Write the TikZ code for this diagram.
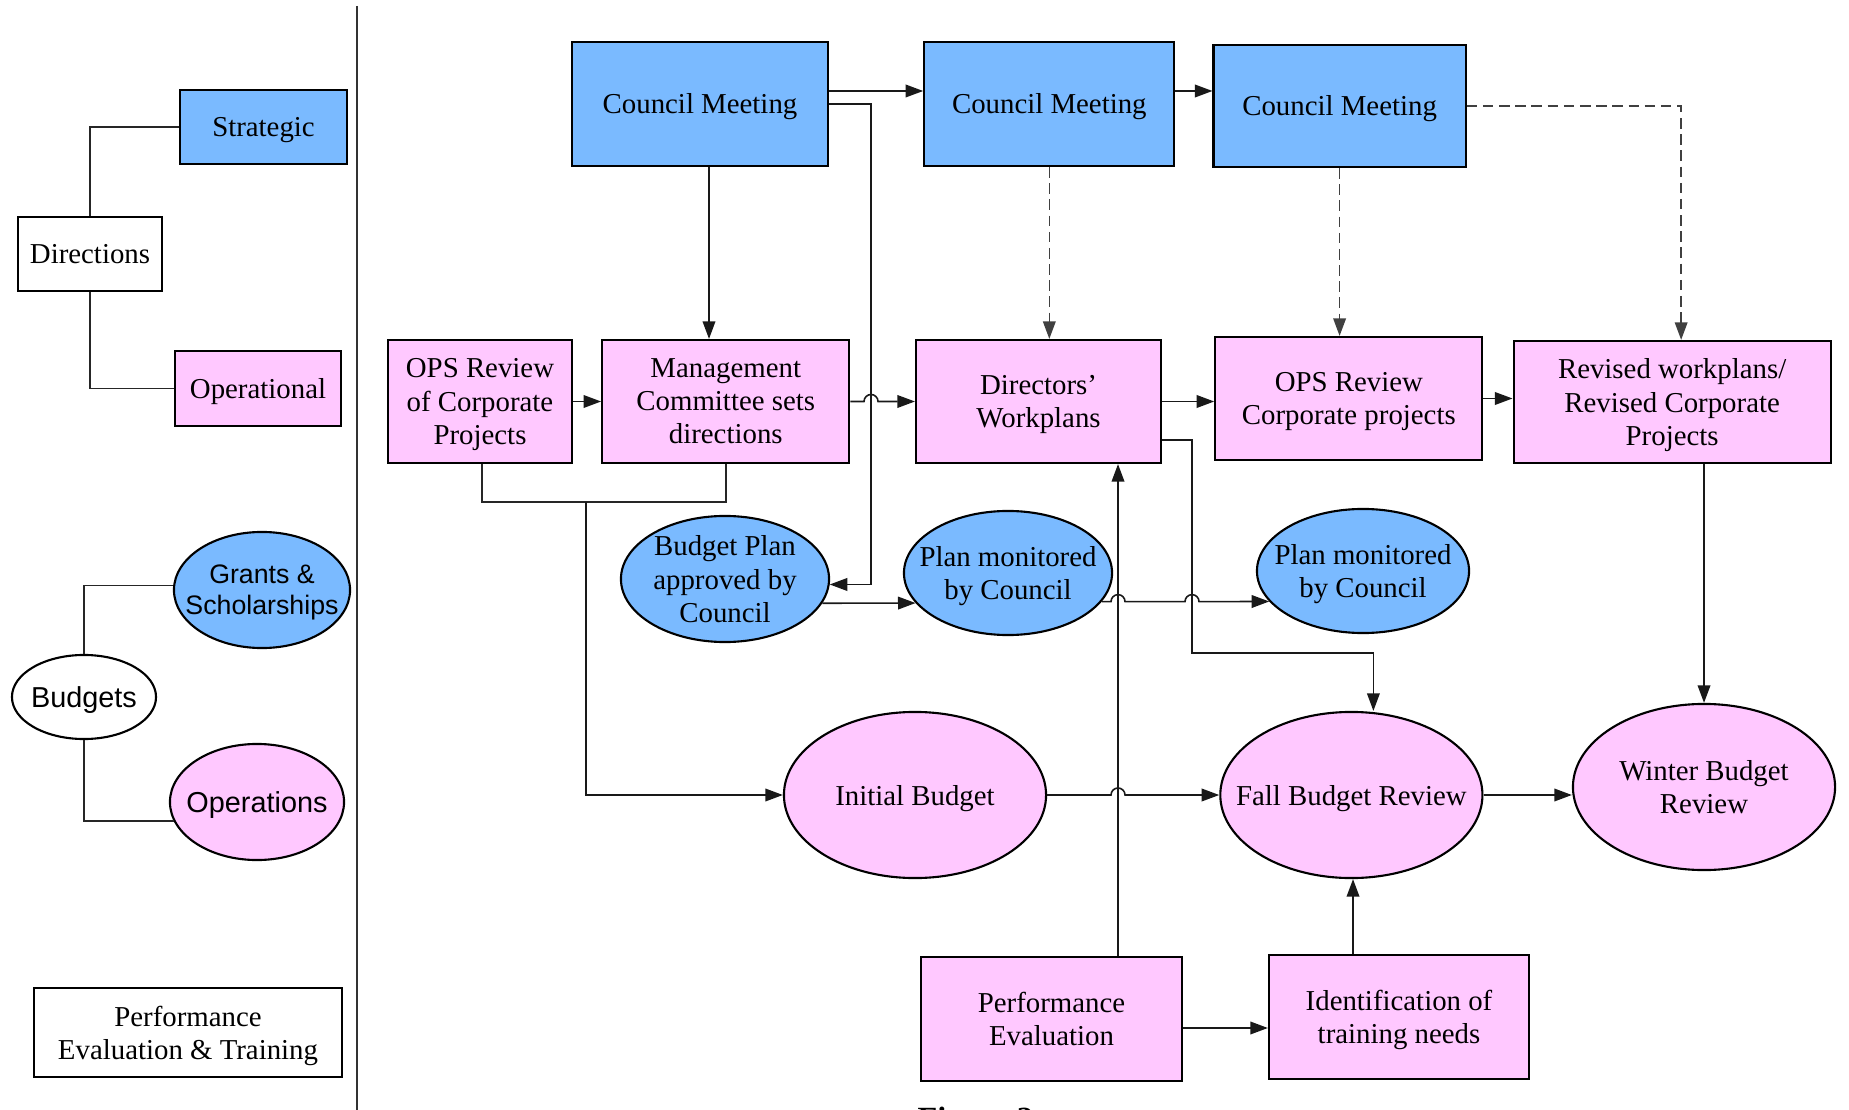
\documentclass[tikz,border=0pt]{standalone}
\usepackage{fontspec}
\setmainfont{Liberation Serif}
\setsansfont{Liberation Sans}
\usepackage{tikz}
\usetikzlibrary{shapes.geometric, arrows.meta, calc, positioning}

\definecolor{meetblue}{RGB}{122,186,255}
\definecolor{taskpink}{RGB}{255,200,255}

\begin{document}
\begin{tikzpicture}[x=0.01cm, y=-0.01cm, >={Triangle[length=5pt, width=3.6pt]},
    font=\fontsize{8.2}{9.4}\selectfont,
    plainbox/.style={draw, line width=0.6pt, align=center, inner sep=0pt, text depth=0pt},
    meetbox/.style={plainbox, fill=meetblue},
    taskbox/.style={plainbox, fill=taskpink},
    budgetoval/.style={draw, line width=0.6pt, ellipse, align=center, inner sep=-4mm, text depth=0pt},
    sanstext/.style={font=\sffamily\fontsize{8.2}{9}\selectfont},
    plainlink/.style={line width=0.45pt, draw=black!85},
    arrowlink/.style={->, line width=0.45pt, draw=black!90},
    planlink/.style={->, line width=0.45pt, draw=black!75, dash pattern=on 3pt off 1.6pt}]
    \useasboundingbox (0,0) rectangle (1849,1110);

    % Legend: directions
    \node [plainbox, minimum width=1.44cm, minimum height=0.74cm] (dirs) at (90,254) {Directions};
    \node [meetbox, minimum width=1.67cm, minimum height=0.74cm] (strat) at (263.5,127) {Strategic};
    \node [taskbox, minimum width=1.66cm, minimum height=0.75cm] (oper) at (258,388.5) {Operational};
    \draw [plainlink] (dirs.north) |- (strat.west);
    \draw [plainlink] (dirs.south) |- (oper.west);

    % Legend: budgets
    \node [budgetoval, sanstext, fill=white, minimum width=1.44cm, minimum height=0.84cm] (budgets) at (84,697) {Budgets};
    \node [budgetoval, sanstext, font=\sffamily\fontsize{7.6}{8.8}\selectfont, fill=meetblue, minimum width=1.76cm, minimum height=1.16cm] (grants) at (262,590) {Grants \&\\Scholarships};
    \node [budgetoval, sanstext, fill=taskpink, minimum width=1.74cm, minimum height=1.16cm] (opsoval) at (257,802) {Operations};
    \draw [plainlink] (budgets.north) |- (grants.177);
    \draw [plainlink] (budgets.south) |- (opsoval.193);

    % Legend: training
    \node [plainbox, minimum width=3.08cm, minimum height=0.89cm] (training) at (188,1032.5) {Performance\\Evaluation \& Training};

    % Divider
    \draw [line width=0.5pt, black!80] (357,6) -- (357,1110);

    % Council Meetings
    \node [meetbox, minimum width=2.56cm, minimum height=1.24cm] (cm1) at (700,104) {Council Meeting};
    \node [meetbox, minimum width=2.50cm, minimum height=1.24cm, right=0.94cm of cm1] (cm2) {Council Meeting};
    \node [meetbox, minimum width=2.52cm, minimum height=1.22cm, right=0.37cm of cm2, yshift=-0.02cm] (cm3) {Council Meeting};

    % Workplan row
    \node [taskbox, minimum width=1.84cm, minimum height=1.23cm] (opsrev) at (480,401.5) {OPS Review\\of Corporate\\Projects};
    \node [taskbox, minimum width=2.47cm, minimum height=1.23cm, right=0.28cm of opsrev] (mgmt) {Management\\Committee sets\\directions};
    \node [taskbox, minimum width=2.45cm, minimum height=1.23cm, right=0.645cm of mgmt] (dirwp) {Directors'\\Workplans};
    \node [taskbox, minimum width=2.67cm, minimum height=1.23cm, right=0.52cm of dirwp, yshift=0.03cm] (opsrev2) {OPS Review\\Corporate projects};
    \node [taskbox, minimum width=3.17cm, minimum height=1.22cm, right=0.29cm of opsrev2, yshift=-0.035cm] (revised) {Revised workplans/\\Revised Corporate\\Projects};

    % Budget ovals
    \node [budgetoval, fill=meetblue, minimum width=2.08cm, minimum height=1.26cm] (bplan) at (725,579) {Budget Plan\\approved by\\Council};
    \node [budgetoval, fill=meetblue, minimum width=2.08cm, minimum height=1.24cm] (mon1) at (1008,573) {Plan monitored\\by Council};
    \node [budgetoval, fill=meetblue, minimum width=2.12cm, minimum height=1.24cm] (mon2) at (1363,571) {Plan monitored\\by Council};
    \node [budgetoval, fill=taskpink, minimum width=2.62cm, minimum height=1.66cm] (initial) at (915,795) {Initial Budget};
    \node [budgetoval, fill=taskpink, minimum width=2.62cm, minimum height=1.66cm, right=1.72cm of initial] (fall) {Fall Budget Review};
    \node [budgetoval, fill=taskpink, minimum width=2.62cm, minimum height=1.66cm] (winter) at (1704,787) {Winter Budget\\Review};

    % Training
    \node [taskbox, minimum width=2.61cm, minimum height=1.24cm] (perf) at (1051.5,1019) {Performance\\Evaluation};
    \node [taskbox, minimum width=2.60cm, minimum height=1.24cm] (ident) at (1399,1017) {Identification of\\training needs};

    \node [font=\bfseries\fontsize{9.2}{11}\selectfont, anchor=north west, inner sep=0pt] (figcap) at (917,1106) {Figure 2};

    % Council links
    \coordinate (cmdrop) at (871,104);
    \draw [arrowlink] ($(cm1.east)+(0,-13)$) -- ($(cm2.west)+(0,-13)$);
    \draw [arrowlink] ($(cm2.east)+(0,-13)$) -- ($(cm2.east -| cm3.west)+(0,-13)$);
    \draw [arrowlink] (cm1.east) -- (cmdrop) |- (bplan.-3);
    \draw [arrowlink] ($(cm1.south)+(9,0)$) coordinate (c1down) -- (c1down |- mgmt.north);
    \draw [planlink] (cm2.south) -- (cm2.south |- dirwp.north);
    \draw [planlink] (cm3.south) -- (cm3.south |- opsrev2.north);
    \draw [planlink] (cm3.east) -| ([xshift=0.09cm]revised.north);

    % Workplan links
    \draw [arrowlink] (opsrev.east) -- (mgmt.west);
    \draw [arrowlink] (mgmt.east) -- ($(mgmt.east -| cmdrop)+(-7,0)$) arc[start angle=180, end angle=0, radius=0.07cm] -- (dirwp.west);
    \draw [arrowlink] (dirwp.east) -- (dirwp.east -| opsrev2.west);
    \draw [arrowlink] (opsrev2.east) -- (opsrev2.east -| revised.west);
    \coordinate (merge) at (586,502);
    \draw [plainlink] ($(opsrev.south)+(2,0)$) |- (merge) -| (mgmt.south);
    \draw [arrowlink] (merge) |- (initial.west);
    \draw [arrowlink] (revised.south -| winter.north) -- (winter.north);

    % Evaluation links
    \draw [arrowlink] ($(perf.north)+(66.5,0)$) coordinate (evalup) -- (evalup |- dirwp.south);
    \coordinate (wpdrop) at (1192,653);
    \draw [arrowlink] ($(dirwp.east)+(0,38.5)$) -| (wpdrop) -| ([xshift=0.22cm]fall.north);
    \draw [arrowlink] ($(perf.east)+(0,9)$) -- ($(perf.east -| ident.west)+(0,9)$);
    \draw [arrowlink] ($(ident.north)+(-46,0)$) coordinate (idup) -- (idup |- fall.south);

    % Budget links
    \draw [arrowlink] (bplan.-14) -- (mon1.198);
    \draw [arrowlink] (mon1.-17) -- ($(mon1.-17 -| evalup)+(-7,0)$) arc[start angle=180, end angle=0, radius=0.07cm]
        -- ($(mon1.-17 -| wpdrop)+(-7,0)$) arc[start angle=180, end angle=0, radius=0.07cm] -- (mon2.198);
    \draw [arrowlink] (initial.east) -- ($(initial.east -| evalup)+(-7,0)$) arc[start angle=180, end angle=0, radius=0.07cm] -- (fall.west);
    \draw [arrowlink] (fall.east) -- (fall.east -| winter.west);

\end{tikzpicture}
\end{document}
